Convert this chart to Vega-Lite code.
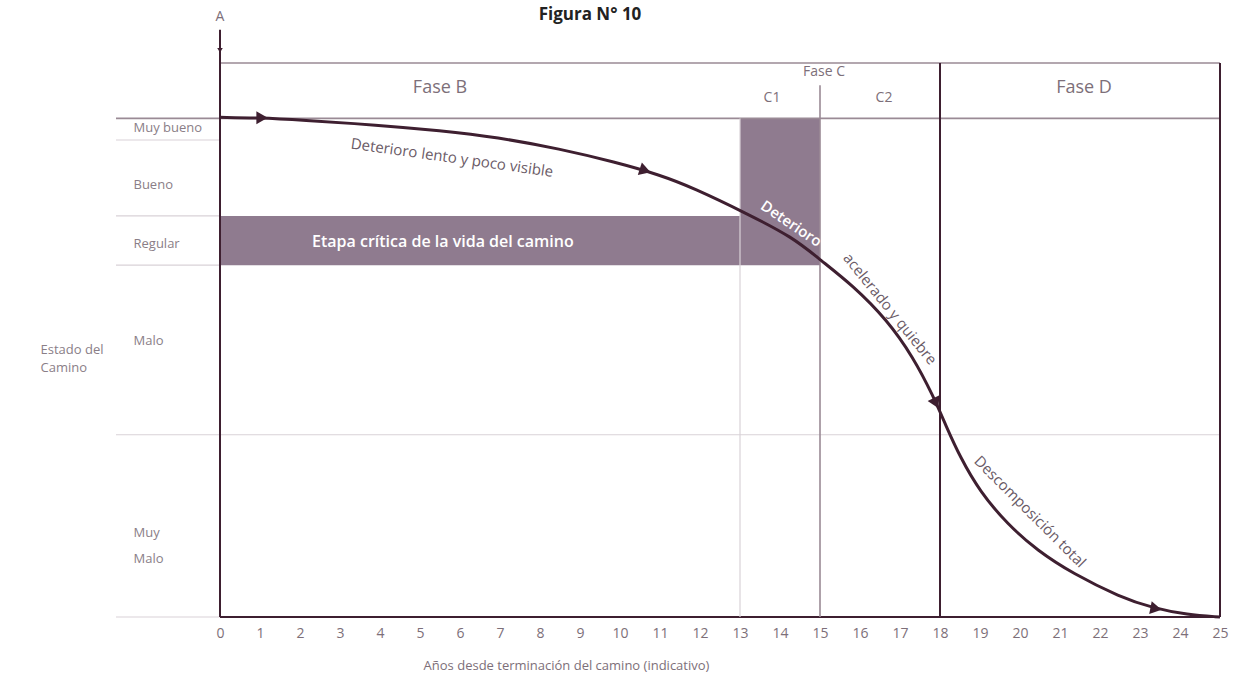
{
  "$schema": "https://vega.github.io/schema/vega-lite/v6.json",
  "autosize": {"type": "none"},
  "padding": {"left": 220, "top": 63, "right": 24, "bottom": 70},
  "width": 1000,
  "height": 554,
  "background": "white",
  "config": {
    "view": {"stroke": null},
    "font": "Open Sans",
    "axis": {"grid": false, "ticks": false, "labelFont": "Open Sans", "titleFont": "Open Sans"}
  },
  "title": {
    "text": "Figura N° 10",
    "fontSize": 17,
    "fontWeight": "bold",
    "color": "#222222",
    "anchor": "middle",
    "frame": "group",
    "dx": -130,
    "offset": -31,
    "baseline": "bottom"
  },
  "datasets": {
    "curva": [
      {"anio": 0, "estado": 90.2}, {"anio": 1, "estado": 90.1}, {"anio": 2, "estado": 89.7},
      {"anio": 3.95, "estado": 88.8}, {"anio": 5.5, "estado": 87.8}, {"anio": 6.93, "estado": 86.6},
      {"anio": 8.5, "estado": 84.5}, {"anio": 9.88, "estado": 82.1}, {"anio": 11, "estado": 79.8},
      {"anio": 11.85, "estado": 77.4}, {"anio": 13.15, "estado": 72.9}, {"anio": 14.33, "estado": 68.5},
      {"anio": 15.0, "estado": 64.5}, {"anio": 15.83, "estado": 59.8}, {"anio": 16.68, "estado": 53.6},
      {"anio": 17.33, "estado": 46.9}, {"anio": 17.83, "estado": 39.9}, {"anio": 18.15, "estado": 34.5},
      {"anio": 18.5, "estado": 28.9}, {"anio": 19.0, "estado": 22.6}, {"anio": 19.68, "estado": 16.8},
      {"anio": 20.43, "estado": 12.0}, {"anio": 21.33, "estado": 7.8}, {"anio": 22.5, "estado": 3.6},
      {"anio": 23.33, "estado": 1.6}, {"anio": 24.18, "estado": 0.4}, {"anio": 25, "estado": 0}
    ],
    "zonas": [
      {"x1": 0, "x2": 15, "y1": 63.5, "y2": 72.4},
      {"x1": 13, "x2": 15, "y1": 72.4, "y2": 90}
    ],
    "hlineas": [
      {"x1": 0, "x2": 25, "y": 100, "tipo": "medio"},
      {"x1": -2.6, "x2": 25, "y": 90, "tipo": "medio"},
      {"x1": -2.6, "x2": 0, "y": 86.1, "tipo": "claro"},
      {"x1": -2.6, "x2": 0, "y": 72.4, "tipo": "claro"},
      {"x1": -2.6, "x2": 0, "y": 63.5, "tipo": "claro"},
      {"x1": -2.6, "x2": 25, "y": 32.9, "tipo": "claro"},
      {"x1": -2.6, "x2": 0, "y": 0, "tipo": "claro"},
      {"x1": 0, "x2": 25, "y": 0, "tipo": "oscuro"}
    ],
    "vlineas": [
      {"x": 0, "y1": 0, "y2": 106, "tipo": "oscuro"},
      {"x": 18, "y1": 0, "y2": 100, "tipo": "oscuro"},
      {"x": 25, "y1": 0, "y2": 100, "tipo": "oscuro"},
      {"x": 15, "y1": 0, "y2": 96, "tipo": "medio"},
      {"x": 13, "y1": 0, "y2": 90, "tipo": "claro"}
    ],
    "flechas": [
      {"anio": 1.05, "estado": 90.1, "dir": 0},
      {"anio": 10.63, "estado": 80.6, "dir": 18},
      {"anio": 17.9, "estado": 38.6, "dir": 64},
      {"anio": 23.4, "estado": 1.5, "dir": 11}
    ],
    "encabezados": [
      {"x": 5.5, "y": 95.5, "texto": "Fase B", "tam": "g"},
      {"x": 15.1, "y": 98.3, "texto": "Fase C", "tam": "p"},
      {"x": 13.8, "y": 93.6, "texto": "C1", "tam": "p"},
      {"x": 16.6, "y": 93.6, "texto": "C2", "tam": "p"},
      {"x": 21.6, "y": 95.5, "texto": "Fase D", "tam": "g"},
      {"x": 0, "y": 108.3, "texto": "A", "tam": "p"}
    ],
    "rotulos": [
      {"x": 5.8, "y": 82.9, "texto": "Deterioro lento y poco visible", "ang": 8},
      {"x": 16.75, "y": 55.6, "texto": "acelerado y quiebre", "ang": 51},
      {"x": 20.25, "y": 19.0, "texto": "Descomposición total", "ang": 45}
    ]
  },
  "layer": [
    {
      "data": {"name": "zonas"},
      "mark": {"type": "rect", "color": "#8f7b8f", "clip": false},
      "encoding": {
        "x": {"field": "x1", "type": "quantitative", "scale": {"domain": [0, 25], "nice": false, "zero": false},
          "axis": {"values": [0,1,2,3,4,5,6,7,8,9,10,11,12,13,14,15,16,17,18,19,20,21,22,23,24,25],
            "tickCount": 26, "domain": false, "labelFontSize": 14, "labelColor": "#7d6f79", "labelPadding": 9,
            "labelFlush": false, "labelOverlap": false,
            "title": "Años desde terminación del camino (indicativo)", "titleFontSize": 13,
            "titleFontWeight": "normal", "titleColor": "#7d6f79", "titleX": 346, "titleY": 48,
            "titleAnchor": "middle", "titleAlign": "center", "titleBaseline": "middle"}},
        "x2": {"field": "x2"},
        "y": {"field": "y1", "type": "quantitative", "scale": {"domain": [0, 100], "nice": false, "zero": false},
          "axis": {"values": [88.4, 78, 67.5, 50, 15.2], "domain": false,
            "labelExpr": "datum.value > 88 ? 'Muy bueno' : datum.value > 77 ? 'Bueno' : datum.value > 67 ? 'Regular' : datum.value > 49 ? 'Malo' : ['Muy', 'Malo']",
            "labelAlign": "left", "labelPadding": 87, "labelFontSize": 13, "labelColor": "#8a7e87",
            "labelLineHeight": 26, "labelBaseline": "middle",
            "title": ["Estado del", "Camino"], "titleAngle": 0, "titleAlign": "left",
            "titleX": -180, "titleY": 286, "titleBaseline": "middle", "titleFontSize": 13,
            "titleFontWeight": "normal", "titleColor": "#8a7e87", "titleLineHeight": 18}},
        "y2": {"field": "y2"}
      }
    },
    {
      "data": {"name": "hlineas"},
      "mark": {"type": "rule", "clip": false},
      "encoding": {
        "x": {"field": "x1", "type": "quantitative"},
        "x2": {"field": "x2"},
        "y": {"field": "y", "type": "quantitative"},
        "color": {"field": "tipo", "type": "nominal", "legend": null,
          "scale": {"domain": ["oscuro", "medio", "claro"], "range": ["#3e1f30", "#9a8a95", "#d9d2d7"]}},
        "strokeWidth": {"field": "tipo", "type": "nominal", "legend": null,
          "scale": {"domain": ["oscuro", "medio", "claro"], "range": [2, 1.2, 1.2]}}
      }
    },
    {
      "data": {"name": "vlineas"},
      "mark": {"type": "rule", "clip": false},
      "encoding": {
        "x": {"field": "x", "type": "quantitative"},
        "y": {"field": "y1", "type": "quantitative"},
        "y2": {"field": "y2"},
        "color": {"field": "tipo", "type": "nominal", "legend": null,
          "scale": {"domain": ["oscuro", "medio", "claro"], "range": ["#3e1f30", "#8a6f80", "#d9d2d7"]}},
        "strokeWidth": {"field": "tipo", "type": "nominal", "legend": null,
          "scale": {"domain": ["oscuro", "medio", "claro"], "range": [2, 1.2, 1.2]}}
      }
    },
    {
      "data": {"values": [{"x": 14.28, "y": 71.0, "texto": "Deterioro"}]},
      "mark": {"type": "text", "color": "#ffffff", "fontSize": 15, "fontWeight": 600, "angle": 34, "align": "center", "baseline": "middle", "clip": false},
      "encoding": {
        "x": {"field": "x", "type": "quantitative"},
        "y": {"field": "y", "type": "quantitative"},
        "text": {"field": "texto"}
      }
    },
    {
      "data": {"name": "curva"},
      "mark": {"type": "line", "interpolate": "basis", "color": "#3e1f30", "strokeWidth": 3, "clip": false},
      "encoding": {
        "x": {"field": "anio", "type": "quantitative"},
        "y": {"field": "estado", "type": "quantitative"}
      }
    },
    {
      "data": {"name": "flechas"},
      "mark": {"type": "point", "shape": "triangle-right", "filled": true, "color": "#3e1f30", "opacity": 1, "size": 170, "clip": false},
      "encoding": {
        "x": {"field": "anio", "type": "quantitative"},
        "y": {"field": "estado", "type": "quantitative"},
        "angle": {"field": "dir", "type": "quantitative", "scale": null}
      }
    },
    {
      "data": {"values": [{"anio": 0, "estado": 102.3}]},
      "mark": {"type": "point", "shape": "triangle-down", "filled": true, "color": "#3e1f30", "opacity": 1, "size": 30, "clip": false},
      "encoding": {
        "x": {"field": "anio", "type": "quantitative"},
        "y": {"field": "estado", "type": "quantitative"}
      }
    },
    {
      "data": {"name": "encabezados"},
      "mark": {"type": "text", "color": "#7d6f79", "clip": false, "baseline": "middle", "align": "center"},
      "encoding": {
        "x": {"field": "x", "type": "quantitative"},
        "y": {"field": "y", "type": "quantitative"},
        "text": {"field": "texto"},
        "size": {"field": "tam", "type": "nominal", "legend": null, "scale": {"domain": ["g", "p"], "range": [18, 14]}}
      }
    },
    {
      "data": {"values": [{"x": 2.3, "y": 67.6, "texto": "Etapa crítica de la vida del camino"}]},
      "mark": {"type": "text", "color": "white", "fontSize": 16, "fontWeight": 600, "align": "left", "baseline": "middle", "clip": false},
      "encoding": {
        "x": {"field": "x", "type": "quantitative"},
        "y": {"field": "y", "type": "quantitative"},
        "text": {"field": "texto"}
      }
    },
    {
      "data": {"name": "rotulos"},
      "mark": {"type": "text", "fontSize": 15, "color": "#6a5a66", "align": "center", "baseline": "middle", "clip": false},
      "encoding": {
        "x": {"field": "x", "type": "quantitative"},
        "y": {"field": "y", "type": "quantitative"},
        "text": {"field": "texto"},
        "angle": {"field": "ang", "type": "quantitative", "scale": null}
      }
    }
  ]
}
